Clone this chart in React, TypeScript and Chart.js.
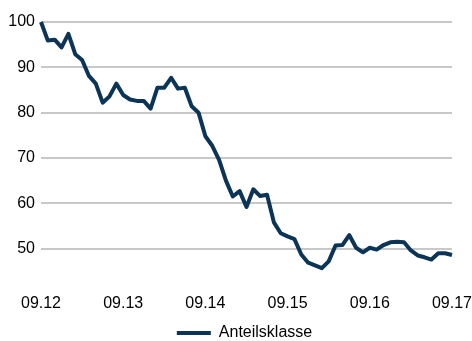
import React, { useEffect, useRef } from "react";
import { Chart, registerables } from "chart.js";

Chart.register(...registerables);

const startYear = 12;
const months = 61;
const labels: string[] = Array.from({ length: months }, (_, i) => {
  const m = ((8 + i) % 12) + 1;
  const y = startYear + Math.floor((8 + i) / 12);
  return `${String(m).padStart(2, "0")}.${y}`;
});

const seriesName = "Anteilsklasse";
const values: number[] = [
  100, 95.9, 96.1, 94.4, 97.4, 92.9, 91.6, 88.1, 86.4, 82.2,
  83.6, 86.4, 83.9, 82.9, 82.6, 82.6, 80.9, 85.5, 85.5, 87.7,
  85.3, 85.5, 81.4, 80.0, 74.8, 72.7, 69.6, 65.0, 61.5, 62.7,
  59.2, 63.1, 61.6, 61.9, 55.8, 53.4, 52.7, 52.1, 48.7, 46.9,
  46.3, 45.7, 47.2, 50.7, 50.8, 53.0, 50.2, 49.2, 50.2, 49.8,
  50.8, 51.4, 51.5, 51.4, 49.6, 48.5, 48.1, 47.6, 49.0, 49.0,
  48.6,
];

const yTicks = [40, 50, 60, 70, 80, 90, 100];
const lineColor = "#0b3457";
const fontFamily = "'Liberation Sans', Arial, sans-serif";

const legendShift = {
  id: "legendShift",
  afterLayout(chart: any) {
    const lg = chart.legend;
    if (lg) {
      lg.left += 14;
      lg.right += 14;
    }
  },
};

export default function App() {
  const ref = useRef<HTMLCanvasElement | null>(null);
  useEffect(() => {
    document.body.style.margin = "0";
    const ctx = ref.current!;
    const chart = new Chart(ctx, {
      type: "line",
      data: {
        labels,
        datasets: [
          {
            label: seriesName,
            data: values,
            borderColor: lineColor,
            backgroundColor: lineColor,
            borderWidth: 4,
            pointRadius: 0,
            tension: 0,
            fill: false,
            clip: false as any,
            borderJoinStyle: "round",
          },
        ],
      },
      plugins: [legendShift],
      options: {
        animation: false,
        responsive: false,
        maintainAspectRatio: false,
        layout: { padding: { left: 8, right: 19, top: 22, bottom: -10 } },
        plugins: {
          tooltip: { enabled: false },
          legend: {
            position: "bottom",
            labels: {
              padding: 0,
              boxWidth: 34,
              boxHeight: 4,
              color: "#000",
              font: { family: fontFamily, size: 16 },
              generateLabels: () => [
                {
                  text: seriesName,
                  fillStyle: lineColor,
                  strokeStyle: lineColor,
                  lineWidth: 0,
                  hidden: false,
                  datasetIndex: 0,
                } as any,
              ],
            },
          },
        },
        scales: {
          x: {
            type: "category",
            offset: false,
            grid: { display: false, drawTicks: false },
            border: { display: false },
            afterFit: (scale: any) => {
              scale.height = 31;
            },
            ticks: {
              autoSkip: false,
              maxRotation: 0,
              padding: 0,
              color: "#000",
              font: { family: fontFamily, size: 16 },
              callback: (_v: any, i: number) => (i % 12 === 0 ? labels[i] : ""),
            },
          },
          y: {
            min: 40,
            max: 100,
            afterBuildTicks: (scale: any) => {
              scale.ticks = yTicks.map((v) => ({ value: v }));
            },
            afterFit: (scale: any) => {
              scale.width = 33;
            },
            grid: {
              drawTicks: false,
              lineWidth: 2,
              color: (c: any) => (c.tick && c.tick.value === 40 ? "rgba(0,0,0,0)" : "#c8c8c8"),
            },
            border: { display: false },
            ticks: {
              padding: 6,
              color: "#000",
              font: { family: fontFamily, size: 16 },
              callback: (v: any) => (v === 40 ? "" : String(v)),
            },
          },
        },
      },
    });
    return () => chart.destroy();
  }, []);
  return (
    <div style={{ position: "absolute", left: 0, top: 0, width: 472, height: 341 }}>
      <canvas ref={ref} width={472} height={341} style={{ width: 472, height: 341 }} />
    </div>
  );
}
